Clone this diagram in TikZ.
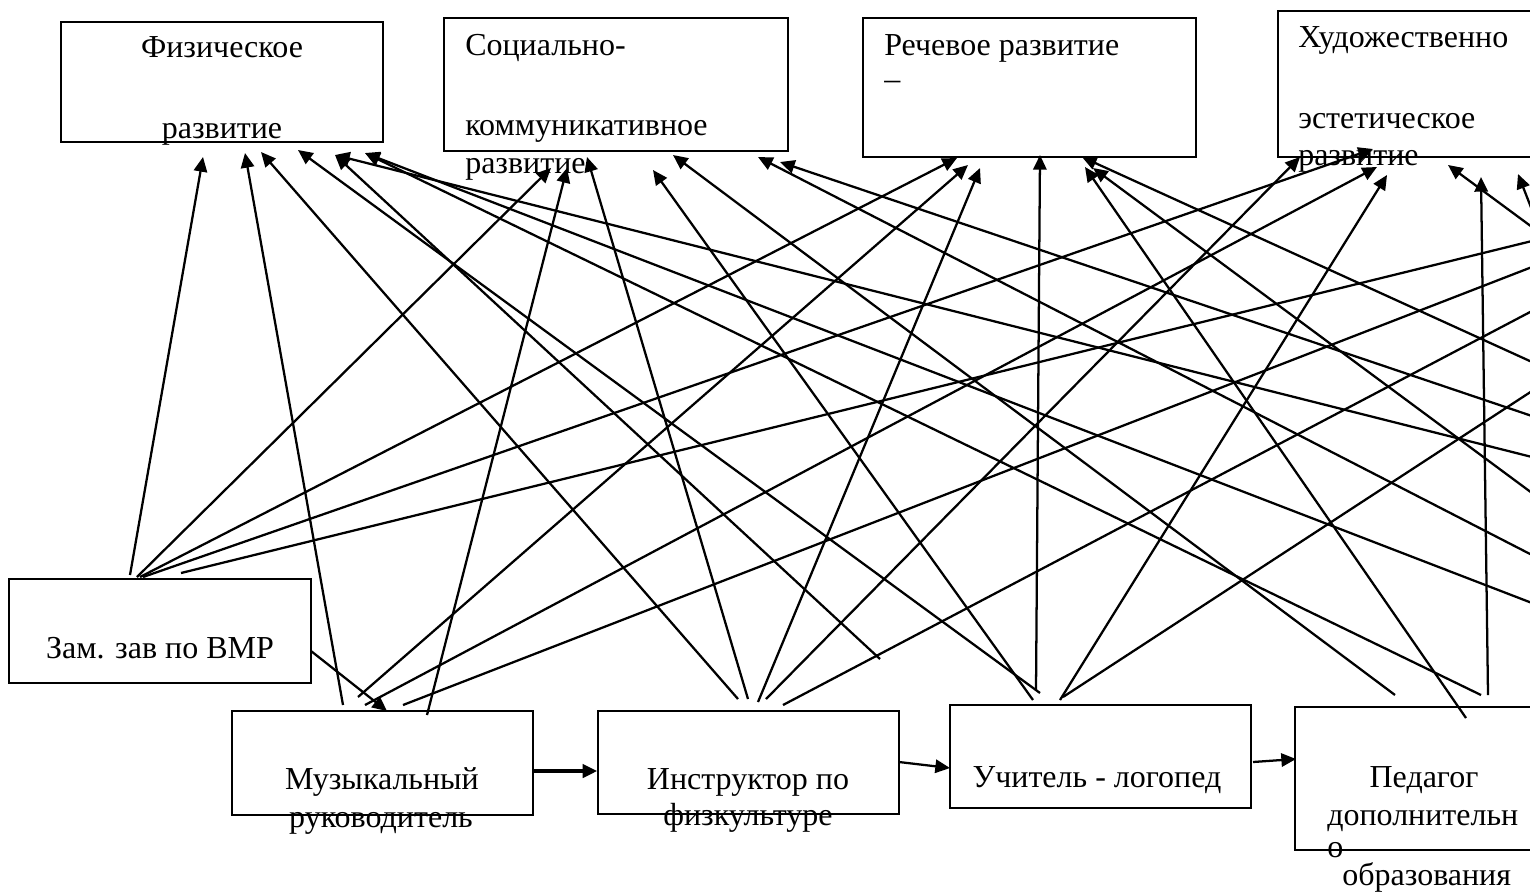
\documentclass[tikz,border=0pt]{standalone}
\usepackage{fontspec}
\setmainfont{Liberation Serif}
\usetikzlibrary{arrows.meta}
\begin{document}
\begin{tikzpicture}[x=0.75pt,y=-0.75pt,
  box/.style={draw,line width=1.1pt,fill=white,inner sep=0pt,rectangle},
  lbl/.style={inner sep=0pt,font=\fontsize{24pt}{28pt}\selectfont},
  con/.style={line width=1.7pt,-{Triangle[length=11pt,width=10pt]}},
  thickcon/.style={line width=2.6pt,-{Triangle[length=11pt,width=10pt]}}
]
\useasboundingbox (0,0) rectangle (1530,894);
\clip (0,0) rectangle (1530,894);
\fill[white] (0,0) rectangle (1530,894);

% ---- boxes ----
\node[box,minimum width=241.5pt,minimum height=90pt] (fiz) at (222,82) {};
\node[box,minimum width=258pt,minimum height=99.75pt] (soc) at (616,84.5) {};
\node[box,minimum width=249.75pt,minimum height=104.25pt] (rech) at (1029.5,87.5) {};
\node[box,minimum width=200.25pt,minimum height=109.5pt] (hud) at (1411.5,84) {};
\node[box,minimum width=226.5pt,minimum height=78pt] (zam) at (160,631) {};
\node[box,minimum width=225.75pt,minimum height=78pt] (muz) at (382.5,763) {};
\node[box,minimum width=225.75pt,minimum height=77.25pt] (ins) at (748.5,762.5) {};
\node[box,minimum width=225.75pt,minimum height=77.25pt] (log) at (1100.5,756.5) {};
\node[box,minimum width=187.5pt,minimum height=107.25pt] (ped) at (1420,778.5) {};

% ---- texts ----
\node[lbl,anchor=base] (t1) at (222,57) {Физическое};
\node[lbl,anchor=base] (t2) at (222,138) {развитие};
\node[lbl,anchor=base west] (t3) at (465,55) {Социально-};
\node[lbl,anchor=base west] (t4) at (465,135) {коммуникативное};
\node[lbl,anchor=base west] (t5) at (465,173) {развитие};
\node[lbl,anchor=base west] (t6) at (884,55) {Речевое развитие};
\node[lbl,anchor=base west] (t7) at (884,89) {–};
\node[lbl,anchor=base west] (t8) at (1298,47) {Художественно};
\node[lbl,anchor=base west] (t9) at (1298,128) {эстетическое};
\node[lbl,anchor=base west] (t10) at (1298,165) {развитие};
\node[lbl,anchor=base] (t11) at (160,658) {Зам. зав по ВМР};
\node[lbl,anchor=base] (t12) at (382,789) {Музыкальный};
\node[lbl,anchor=base] (t13) at (381,827) {руководитель};
\node[lbl,anchor=base] (t14) at (748,789) {Инструктор по};
\node[lbl,anchor=base] (t15) at (748,825) {физкультуре};
\node[lbl,anchor=base] (t16) at (1097,787) {Учитель - логопед};
\node[lbl,anchor=base] (t17) at (1424,787) {Педагог};
\node[lbl,anchor=base west] (t18) at (1327,825) {дополнительн};
\node[lbl,anchor=base west] (t19) at (1327,857) {о};
\node[lbl,anchor=base west] (t20) at (1342,885) {образования};

% ---- arrow targets ----
\coordinate (f1) at (203,157);
\coordinate (f2) at (245,153);
\coordinate (f3) at (261,152);
\coordinate (f4) at (298,150);
\coordinate (f5) at (335,155);
\coordinate (f6) at (365,153);
\coordinate (s1) at (551,168);
\coordinate (s2) at (567,168);
\coordinate (s3) at (587,157);
\coordinate (s4) at (653,170);
\coordinate (s5) at (673,155);
\coordinate (s6) at (758,157);
\coordinate (s7) at (780,162);
\coordinate (r1) at (957,158);
\coordinate (r2) at (968,165);
\coordinate (r3) at (980,168);
\coordinate (r4) at (1040,155);
\coordinate (r5) at (1082,157);
\coordinate (r6) at (1085,167);
\coordinate (r7) at (1093,168);
\coordinate (h1) at (1300,157);
\coordinate (h2) at (1373,149);
\coordinate (h3) at (1377,167);
\coordinate (h4) at (1387,175);
\coordinate (h5) at (1448,165);
\coordinate (h6) at (1481,177);
\coordinate (h7) at (1518,174);

% ---- line sources ----
\coordinate (z1) at (130,575);
\coordinate (z2) at (137,577);
\coordinate (z3) at (140,577);
\coordinate (z4) at (143,577);
\coordinate (z5) at (181,573);
\coordinate (m1) at (343,705);
\coordinate (m2) at (358,697);
\coordinate (m3) at (365,705);
\coordinate (m4) at (403,705);
\coordinate (m5) at (427,715);
\coordinate (i1) at (738,699);
\coordinate (i2) at (748,699);
\coordinate (i3) at (758,702);
\coordinate (i4) at (766,699);
\coordinate (i5) at (783,705);
\coordinate (p0) at (880,659);
\coordinate (u1) at (1033,700);
\coordinate (u2) at (1040,693);
\coordinate (u3) at (1036,690);
\coordinate (u4) at (1060,700);
\coordinate (u5) at (1063,697);
\coordinate (d1) at (1395,695);
\coordinate (d2) at (1466,718);
\coordinate (d3) at (1481,695);
\coordinate (d4) at (1488,695);
% off-page ends (right edge)
\coordinate (e1) at (1532,210);
\coordinate (e2) at (1532,227);
\coordinate (e3) at (1532,241);
\coordinate (e4) at (1532,267);
\coordinate (e5) at (1532,311);
\coordinate (e6) at (1532,362);
\coordinate (e7) at (1532,391);
\coordinate (e8) at (1532,416);
\coordinate (e9) at (1532,457);
\coordinate (e10) at (1532,493);
\coordinate (e11) at (1532,555);
\coordinate (e12) at (1532,603);

% ---- lines from Зам ----
\draw[con] (z1) -- (f1);
\draw[con] (z2) -- (s1);
\draw[con] (z3) -- (r1);
\draw[con] (z4) -- (h2);
\draw[con,-] (z5) -- (e3);
% ---- from Музыкальный ----
\draw[con] (m1) -- (f2);
\draw[con] (m2) -- (r2);
\draw[con] (m3) -- (h3);
\draw[con,-] (m4) -- (e4);
\draw[con] (m5) -- (s2);
% ---- from Инструктор ----
\draw[con] (i1) -- (f3);
\draw[con] (i2) -- (s3);
\draw[con] (i3) -- (r3);
\draw[con] (i4) -- (h1);
\draw[con,-] (i5) -- (e5);
\draw[con] (p0) -- (f5);
% ---- from Учитель ----
\draw[con] (u1) -- (s4);
\draw[con] (u2) -- (f4);
\draw[con] (u3) -- (r4);
\draw[con] (u4) -- (h4);
\draw[con,-] (u5) -- (e7);
% ---- from Педагог ----
\draw[con] (d1) -- (s5);
\draw[con] (d2) -- (r6);
\draw[con] (d3) -- (f6);
\draw[con] (d4) -- (h6);
% ---- from off-page ----
\draw[con] (e1) -- (h7);
\draw[con] (e2) -- (h5);
\draw[con] (e6) -- (r5);
\draw[con] (e8) -- (s7);
\draw[con] (e9) -- (f5);
\draw[con] (e10) -- (r7);
\draw[con] (e11) -- (s6);
\draw[con] (e12) -- (f6);

% ---- connectors between bottom boxes ----
\coordinate (zm1) at (311,651);
\coordinate (zm2) at (387,711);
\draw[con] (zm1) -- (zm2);
\draw[thickcon] (muz.east |- 0,771) -- (ins.west |- 0,771);
\coordinate (il1) at (899,762);
\coordinate (il2) at (950,768);
\draw[con] (il1) -- (il2);
\coordinate (lp1) at (1253,762);
\coordinate (lp2) at (1296,759);
\draw[con] (lp1) -- (lp2);
\end{tikzpicture}
\end{document}
